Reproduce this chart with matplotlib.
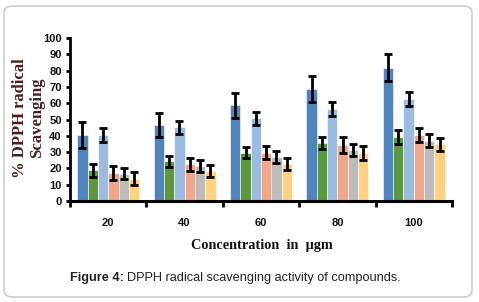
import matplotlib
matplotlib.use("Agg")
import matplotlib.pyplot as plt
import numpy as np
from matplotlib.patches import FancyBboxPatch

categories = ["20", "40", "60", "80", "100"]
series_names = ["S1", "S2", "S3", "S4", "S5", "S6"]
values = [
    [40.5, 46.5, 58.8, 68.6, 81.9],
    [19.0, 24.3, 29.7, 35.6, 39.5],
    [40.5, 45.3, 50.8, 56.5, 62.5],
    [17.2, 22.4, 29.7, 34.6, 40.6],
    [16.8, 21.5, 27.2, 31.5, 36.9],
    [13.8, 18.5, 22.7, 29.5, 34.8],
]
errors = [
    [8.0, 7.5, 7.6, 7.8, 8.0],
    [4.0, 3.6, 3.6, 3.9, 4.3],
    [4.3, 4.0, 4.0, 4.5, 4.1],
    [4.5, 4.2, 4.2, 4.9, 4.4],
    [3.6, 3.7, 3.7, 3.7, 3.9],
    [3.7, 3.6, 3.9, 4.5, 4.1],
]
colors = ["#4f84bd", "#5c993e", "#9bbbe1", "#f1a68a", "#bcbcbc", "#fed280"]

fig = plt.figure(figsize=(4.79, 3.02), dpi=100)
# rounded border
border = FancyBboxPatch((4/479, 5/302), 468/479, 291/302,
                        boxstyle="round,pad=0,rounding_size=0.02",
                        transform=fig.transFigure, fill=False,
                        edgecolor="#c4c4c4", linewidth=1.0)
fig.patches.append(border)

ax = fig.add_axes([70/479, (302-201)/302, 382/479, 163/302])
n = len(categories)
k = len(values)
x = np.arange(n)
group_w = 0.81
bw = group_w / k
for i in range(k):
    pos = x - group_w/2 + bw*(i+0.5)
    ax.bar(pos, values[i], width=bw, color=colors[i], edgecolor="white",
           linewidth=0.4, zorder=2)
    ax.errorbar(pos, values[i], yerr=errors[i], fmt="none", ecolor="black",
                elinewidth=2.0, capsize=2.6, capthick=2.0, zorder=3)

ax.set_xlim(-0.5, n-0.5)
ax.set_ylim(0, 100)
ax.set_yticks(np.arange(0, 101, 10))
ax.set_xticks(x)
ax.set_xticklabels(categories)
ax.set_xticks(np.arange(-0.5, n, 1.0), minor=True)
ax.tick_params(axis="x", which="major", length=0, pad=12)
ax.tick_params(axis="x", which="minor", length=4, width=2, direction="out")
ax.tick_params(axis="y", length=3, width=2, direction="out", pad=3)
for lab in ax.get_xticklabels() + ax.get_yticklabels():
    lab.set_fontfamily(["Liberation Sans Narrow", "Liberation Sans", "DejaVu Sans"])
    lab.set_fontweight("bold")
    lab.set_fontsize(8)
    lab.set_color("#111111")
for s in ["top", "right"]:
    ax.spines[s].set_visible(False)
ax.spines["left"].set_linewidth(2)
ax.spines["bottom"].set_linewidth(2.2)

fig.text(20/479, 1 - 118/302, "% DPPH radical", rotation=90, ha="center", va="center",
         family=["Liberation Serif", "DejaVu Serif"], fontweight="bold", fontsize=12,
         color="#4a1e1e")
fig.text(37/479, 1 - 118/302, "Scavenging", rotation=90, ha="center", va="center",
         family=["Liberation Serif", "DejaVu Serif"], fontweight="bold", fontsize=12,
         color="#4a1e1e")
fig.text(262/479, 1 - 245/302, "Concentration  in  \u03bcgm", ha="center", va="center",
         family=["Liberation Serif", "DejaVu Serif"], fontweight="bold", fontsize=10.3,
         color="#111111")

t1 = fig.text(70/479, 1 - 278/302, "Figure 4:", ha="left", va="center",
              family=["Liberation Sans", "DejaVu Sans"], fontweight="bold", fontsize=9.2,
              color="#222222")
fig.canvas.draw()
bb = t1.get_window_extent()
fig.text((bb.x1 + 3)/479, 1 - 278/302, "DPPH radical scavenging activity of compounds.",
         ha="left", va="center", family=["Liberation Sans", "DejaVu Sans"], fontsize=9.2,
         color="#222222")

fig.savefig("out.png", dpi=100)
